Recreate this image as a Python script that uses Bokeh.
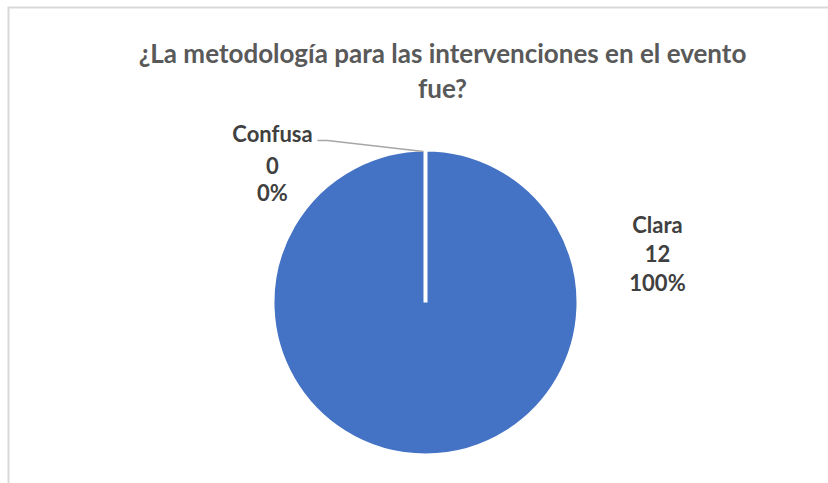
import math
from bokeh.plotting import figure
from bokeh.models import Range1d, ColumnDataSource
from bokeh.core.properties import value
from bokeh.embed import file_html
from bokeh.resources import INLINE

# ---- data ----
title_lines = ["¿La metodología para las intervenciones en el evento", "fue?"]
categories = ["Clara", "Confusa"]
counts = [12, 0]
colors = ["#4472C4", "#ED7D31"]

W, H = 828, 483
FONT = "Lato"

p = figure(width=W, height=H, output_backend="svg", toolbar_location=None,
           x_range=Range1d(0, W), y_range=Range1d(0, H), min_border=0)
p.axis.visible = False
p.xgrid.visible = False
p.ygrid.visible = False
p.outline_line_color = None
p.background_fill_color = "white"
p.border_fill_color = "white"

# chart border (top and left visible)
p.line(x=[8, 8], y=[0, H - 7], line_color="#D9D9D9", line_width=2)
p.line(x=[7, W], y=[H - 7, H - 7], line_color="#D9D9D9", line_width=2)

# title
tx = 442
p.text(x=[tx, tx], y=[H - 52, H - 87], text=title_lines, text_align="center",
       text_baseline="middle", text_font=value(FONT), text_font_style="bold",
       text_font_size="26px", text_color="#595959")

# pie
cx, cy, R = 425, H - 302, 153
total = sum(counts)
starts, ends, cols, cats = [], [], [], []
acc = 0.0
for c, col, cat in zip(counts, colors, categories):
    frac = c / total
    s = math.pi / 2 - 2 * math.pi * acc
    e = math.pi / 2 - 2 * math.pi * (acc + frac)
    acc += frac
    if frac <= 0:
        continue
    if frac >= 1:
        e += 1e-4
    starts.append(s)
    ends.append(e)
    cols.append(col)
    cats.append(cat)

src = ColumnDataSource(dict(x=[cx] * len(starts), y=[cy] * len(starts),
                            start=starts, end=ends, color=cols, cat=cats))
p.wedge(x="x", y="y", radius=R, radius_units="screen", start_angle="start",
        end_angle="end", direction="clock", fill_color="color",
        line_color="white", line_width=4, source=src)

# labels
pcts = [f"{round(100 * c / total)}%" for c in counts]
label_pos = {"Clara": (657, [H - 224, H - 253, H - 282]),
             "Confusa": (272, [H - 133, H - 165, H - 192])}
for cat, cnt, pc in zip(categories, counts, pcts):
    lx, ys = label_pos[cat]
    p.text(x=[lx] * 3, y=ys, text=[cat, str(cnt), pc], text_align="center",
           text_baseline="middle", text_font=value(FONT), text_font_style="bold",
           text_font_size="22px", text_color="#404040")

# leader line for Confusa
p.line(x=[317, 327, cx - 2], y=[H - 140, H - 140, cy + R - 2],
       line_color="#A6A6A6", line_width=1.5)

open("out.html", "w").write(file_html(p, INLINE))
